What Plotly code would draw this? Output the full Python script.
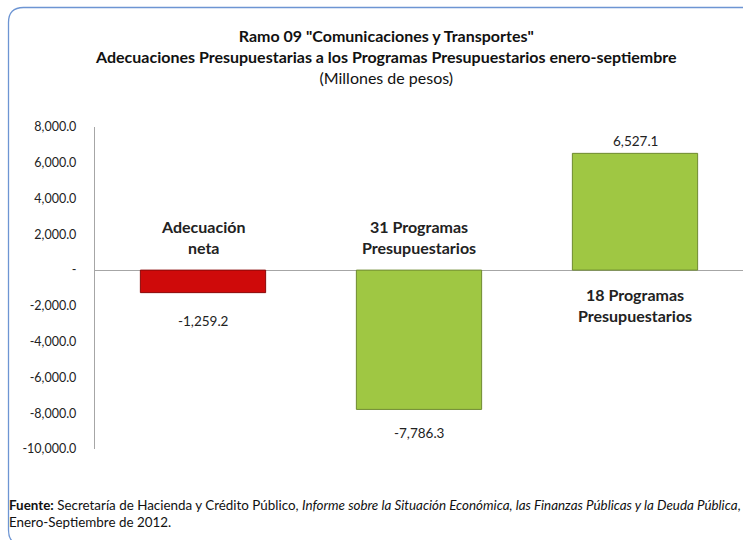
import plotly.graph_objects as go

categories = ["Adecuación neta", "31 Programas Presupuestarios", "18 Programas Presupuestarios"]
cat_labels = ["Adecuación<br>neta", "31 Programas<br>Presupuestarios", "18 Programas<br>Presupuestarios"]
values = [-1259.2, -7786.3, 6527.1]
value_labels = ["-1,259.2", "-7,786.3", "6,527.1"]
tick_vals = [8000, 6000, 4000, 2000, 0, -2000, -4000, -6000, -8000, -10000]
tick_text = ["8,000.0", "6,000.0", "4,000.0", "2,000.0", "-", "-2,000.0", "-4,000.0",
             "-6,000.0", "-8,000.0", "-10,000.0"]

bar_colors = ["#CF0A0A", "#9FC743", "#9FC743"]
bar_lines = ["#8A0A0A", "#6E8A30", "#6E8A30"]
value_shift = [-28, -24, 12]   # pixel offset of value labels from bar end
cat_shift = [33, 33, -35]      # pixel offset of category labels from zero

FONT = "Lato"
W, H = 743, 540

fig = go.Figure()
fig.add_trace(go.Bar(
    x=categories, y=values,
    marker=dict(color=bar_colors, line=dict(color=bar_lines, width=1)),
    width=0.58, hoverinfo="skip",
))

for c, v, lab, s in zip(categories, values, value_labels, value_shift):
    fig.add_annotation(x=c, y=v, xref="x", yref="y", text=lab, showarrow=False,
                       yshift=s, yanchor="middle", font=dict(family=FONT, size=13.5, color="#222"))
for c, lab, s in zip(categories, cat_labels, cat_shift):
    fig.add_annotation(x=c, y=0, xref="x", yref="y", text="<b>" + lab + "</b>", showarrow=False,
                       yshift=s, yanchor="middle", font=dict(family=FONT, size=16, color="#222"))

# title
fig.add_annotation(x=386 / W, y=1 - 57 / H, xref="paper", yref="paper", showarrow=False,
                   xanchor="center", yanchor="middle",
                   text="<b>Ramo 09 \"Comunicaciones y Transportes\"<br>"
                        "Adecuaciones Presupuestarias a los Programas Presupuestarios enero-septiembre</b><br>"
                        "(Millones de pesos)",
                   font=dict(family=FONT, size=16, color="#111"), align="center")

# footer
fig.add_annotation(x=7 / W, y=1 - 513 / H, xref="paper", yref="paper", showarrow=False,
                   xanchor="left", yanchor="middle", align="left",
                   text="<b>Fuente:</b> Secretaría de Hacienda y Crédito Público, "
                        "<i>Informe sobre la Situación Económica, las Finanzas Públicas y la Deuda Pública</i>,<br>"
                        "Enero-Septiembre de 2012.",
                   font=dict(family=FONT, size=13.4, color="#111"))

# rounded border
x0, y0, r = 8.5 / W, 1 - 7.5 / H, 15
x1, y1 = 1.05, 1 - 545 / H
rx, ry = r / W, r / H
path = (f"M {x1},{y0} L {x0+rx},{y0} Q {x0},{y0} {x0},{y0-ry} "
        f"L {x0},{y1+ry} Q {x0},{y1} {x0+rx},{y1} L {x1},{y1}")
fig.add_shape(type="path", path=path, xref="paper", yref="paper",
              line=dict(color="#6D95D3", width=1.3))

fig.update_layout(
    width=W, height=H,
    margin=dict(l=0, r=0, t=0, b=0),
    paper_bgcolor="white", plot_bgcolor="white",
    showlegend=False,
    xaxis=dict(domain=[95 / W, 1], showticklabels=False, showgrid=False, zeroline=False,
               showline=False, automargin=False),
    yaxis=dict(domain=[91 / H, 413 / H], range=[-10000, 8000], tickvals=tick_vals, ticktext=tick_text,
               showgrid=False, zeroline=True, zerolinecolor="#A6A6A6", zerolinewidth=1.3,
               showline=True, linecolor="#A6A6A6", linewidth=1.3, ticks="", ticklen=0,
               ticklabelstandoff=15,
               tickfont=dict(family=FONT, size=12.5, color="#222"), automargin=False),
)

fig.write_html("out.html", config={"displayModeBar": False},
               post_script="document.body.style.margin='0px';")
